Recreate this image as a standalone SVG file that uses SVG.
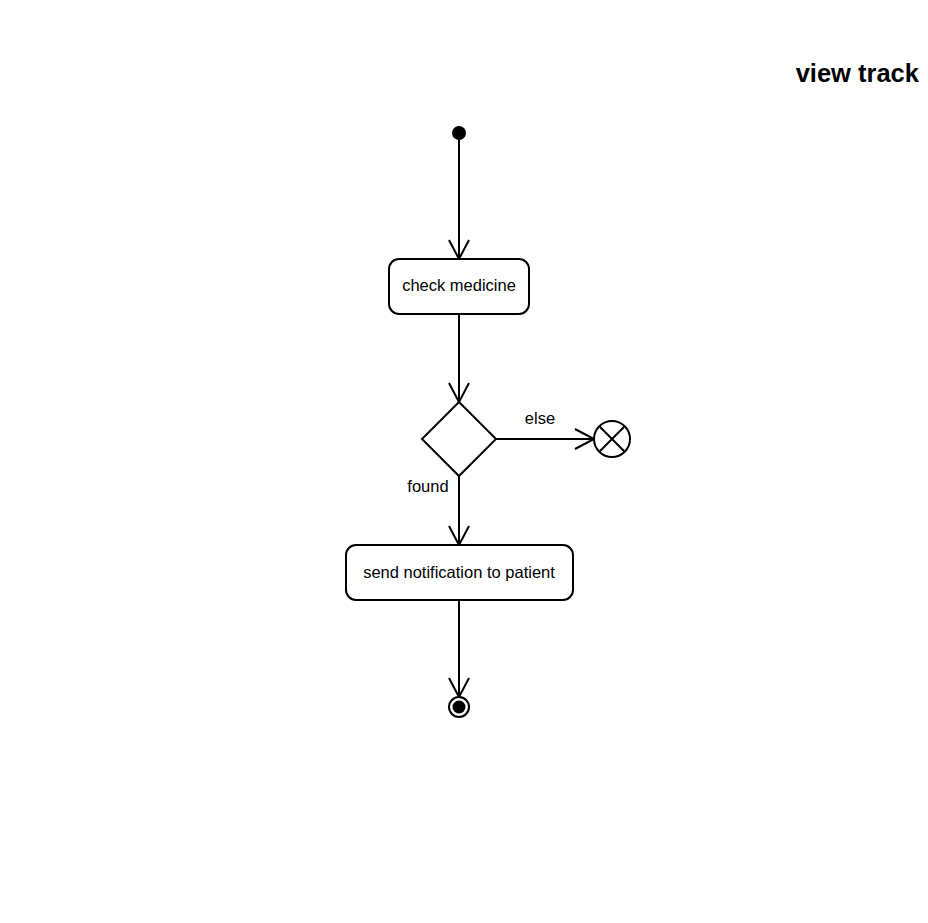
<svg xmlns="http://www.w3.org/2000/svg" width="928" height="923" viewBox="0 0 928 923">
<style>
.n{fill:#fff;stroke:#000;stroke-width:2}
.c{fill:none;stroke:#000;stroke-width:2}
.t{font-family:"Liberation Sans",Arial,sans-serif;font-size:16.5px;fill:#000}
</style>
<defs>
<marker id="a" markerWidth="24" markerHeight="24" refX="20" refY="11" orient="auto" markerUnits="userSpaceOnUse">
<path d="M1,1 L20,11 L1,21" fill="none" stroke="#000" stroke-width="2"/>
</marker>
</defs>
<rect width="928" height="923" fill="#fff"/>
<text x="919" y="82" text-anchor="end" font-family="Liberation Sans,Arial,sans-serif" font-size="25.5" font-weight="bold">view track</text>
<g id="connectors">
<line class="c" x1="459" y1="140" x2="459" y2="259" marker-end="url(#a)"/>
<line class="c" x1="459" y1="314" x2="459" y2="402" marker-end="url(#a)"/>
<line class="c" x1="496" y1="439" x2="594" y2="439" marker-end="url(#a)"/>
<line class="c" x1="459" y1="476" x2="459" y2="545" marker-end="url(#a)"/>
<line class="c" x1="459" y1="600" x2="459" y2="697" marker-end="url(#a)"/>
<text class="t" x="540" y="424" text-anchor="middle">else</text>
<text class="t" x="428" y="492" text-anchor="middle">found</text>
</g>
<g id="start"><circle cx="459" cy="133" r="7" fill="#000"/></g>
<g id="check"><rect class="n" x="389" y="259" width="140" height="55" rx="10"/><text class="t" x="459" y="291" text-anchor="middle">check medicine</text></g>
<g id="decision"><polygon class="n" points="459,402 496,439 459,476 422,439"/></g>
<g id="flowfinal"><circle class="n" cx="612" cy="439" r="18"/><path class="c" d="M599.3,426.3 L624.7,451.7 M624.7,426.3 L599.3,451.7"/></g>
<g id="send"><rect class="n" x="346" y="545" width="227" height="55" rx="10"/><text class="t" x="459" y="578" text-anchor="middle">send notification to patient</text></g>
<g id="end"><circle class="n" cx="459" cy="707" r="10"/><circle cx="459" cy="707" r="6.5" fill="#000"/></g>
</svg>
